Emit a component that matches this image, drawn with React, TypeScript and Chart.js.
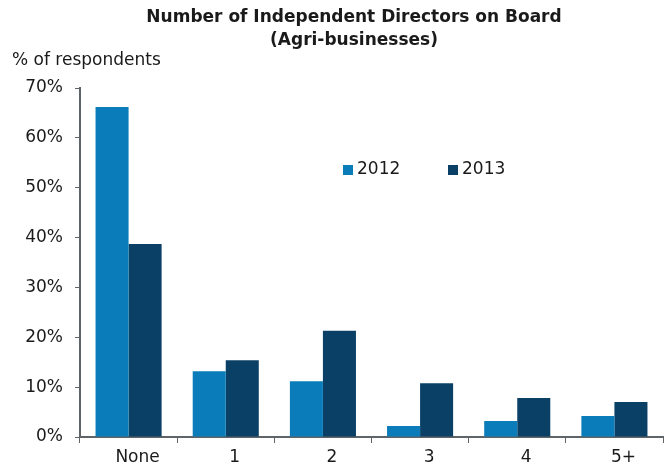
import React, { useEffect, useRef } from "react";
import { Chart, registerables } from "chart.js";

Chart.register(...registerables);

const categories = ["None", "1", "2", "3", "4", "5+"];
const series2012 = [66.2, 13.2, 11.2, 2.2, 3.2, 4.2];
const series2013 = [38.7, 15.4, 21.3, 10.8, 7.8, 7.0];
const seriesLabels = ["2012", "2013"];
const seriesColors = ["#0A7CBA", "#0A4066"];
const titleLines = ["Number of Independent Directors on Board", "(Agri-businesses)"];
const yAxisTitle = "% of respondents";

const FONT = "'DejaVu Sans', Verdana, sans-serif";
const TEXT = "#1a1a1a";
const AXIS = "#5f6468";

const decorPlugin = {
  id: "decor",
  afterDraw(chart: any) {
    const ctx = chart.ctx;
    ctx.save();
    ctx.fillStyle = TEXT;
    ctx.textBaseline = "middle";
    ctx.textAlign = "center";
    ctx.font = `bold 17px ${FONT}`;
    ctx.fillText(titleLines[0], 354, 18);
    ctx.fillText(titleLines[1], 354, 41);
    ctx.textAlign = "left";
    ctx.font = `17px ${FONT}`;
    ctx.fillText(yAxisTitle, 12, 61);
    // legend
    const lx = [343, 448];
    chart.data.datasets.forEach((ds: any, i: number) => {
      ctx.fillStyle = ds.backgroundColor;
      ctx.fillRect(lx[i], 165, 10, 10);
      ctx.fillStyle = TEXT;
      ctx.font = `17px ${FONT}`;
      ctx.fillText(ds.label, lx[i] + 14, 170);
    });
    ctx.restore();
  },
};

export default function App() {
  const ref = useRef<HTMLCanvasElement | null>(null);
  useEffect(() => {
    if (!ref.current) return;
    const chart = new Chart(ref.current, {
      type: "bar",
      data: {
        labels: categories,
        datasets: [
          { label: seriesLabels[0], data: series2012, backgroundColor: seriesColors[0] },
          { label: seriesLabels[1], data: series2013, backgroundColor: seriesColors[1] },
        ],
      },
      options: {
        responsive: false,
        animation: false,
        devicePixelRatio: 1,
        layout: { padding: { top: 88, left: 0, right: 7, bottom: 0 } },
        datasets: { bar: { categoryPercentage: 0.68, barPercentage: 1.0 } },
        plugins: { legend: { display: false }, tooltip: { enabled: false }, title: { display: false } },
        scales: {
          x: {
            offset: true,
            grid: { display: true, drawOnChartArea: false, offset: true, color: AXIS, tickLength: 6, lineWidth: 1 },
            border: { display: true, color: AXIS, width: 2 },
            ticks: { color: TEXT, font: { family: FONT, size: 17 }, padding: 4, maxRotation: 0, labelOffset: 9 },
            afterFit(scale: any) { scale.height = 31; },
          },
          y: {
            min: 0,
            max: 70,
            grid: { display: true, drawOnChartArea: false, color: AXIS, tickLength: 5 },
            border: { display: true, color: AXIS, width: 2 },
            ticks: {
              stepSize: 10,
              color: TEXT,
              font: { family: FONT, size: 17 },
              padding: 12,
              callback: (v: any) => `${v}%`,
            },
            afterFit(scale: any) { scale.width = 80; },
          },
        },
      },
      plugins: [decorPlugin],
    });
    return () => chart.destroy();
  }, []);
  return (
    <div style={{ position: "fixed", left: 0, top: 0, width: 670, height: 468, background: "#fff" }}>
      <canvas ref={ref} width={670} height={468} style={{ width: 670, height: 468, display: "block" }} />
    </div>
  );
}
